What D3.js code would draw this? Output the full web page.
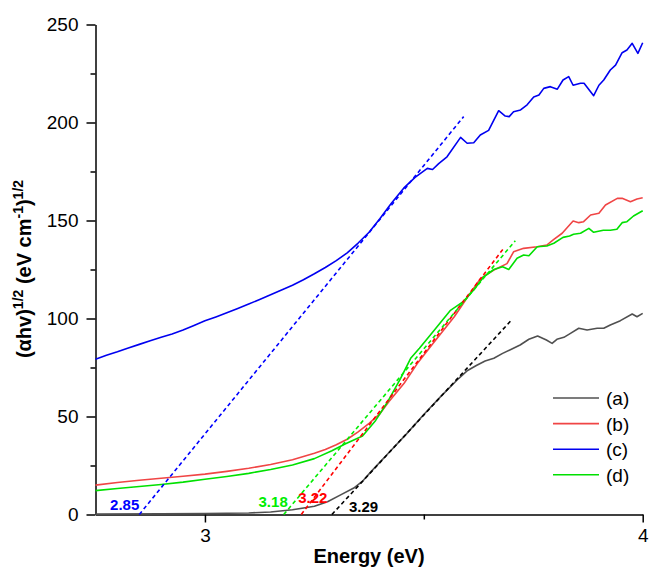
<!DOCTYPE html>
<html>
<head>
<meta charset="utf-8">
<script src="https://cdn.jsdelivr.net/npm/d3@7"></script>
<style>
  body { margin: 0; background: #fff; }
  text { font-family: Arial, "Liberation Sans", sans-serif; }
</style>
</head>
<body>
<div id="chart-area"></div>
<script>
// Energy (eV) and (alpha h v)^1/2 values
var seriesA = [[2.75,0.2],[2.9,0.3],[3.0,0.5],[3.1,0.8],[3.15,1.3],[3.2,2.4],[3.25,4.2],[3.28,6.5],[3.31,10],
  [3.34,13.5],[3.36,17],[3.38,22],[3.42,31.5],[3.46,41],[3.5,51],[3.54,60.5],[3.58,69.5],[3.6,73.5],[3.62,76],
  [3.64,78.3],[3.66,79.7],[3.68,82.2],[3.70,84.3],[3.72,86.5],[3.74,89.4],[3.76,91.1],[3.78,89],[3.793,87.3],
  [3.804,89.4],[3.82,90.4],[3.835,92.4],[3.854,95],[3.873,94.1],[3.896,95],[3.911,95],[3.926,96.7],[3.949,98.9],
  [3.976,102.3],[3.987,100.9],[4.0,102.6]];
var seriesB = [[2.75,15],[2.8,16.3],[2.85,17.5],[2.9,18.5],[2.95,19.5],[3.0,20.6],[3.05,22],[3.1,23.6],[3.15,25.5],
  [3.2,27.9],[3.25,31.2],[3.275,33.2],[3.3,35.6],[3.325,38.4],[3.35,42.2],[3.375,46.5],[3.4,51.5],[3.42,57.5],
  [3.455,67],[3.485,77],[3.52,87],[3.57,101],[3.6,111],[3.63,120.5],[3.66,124.7],[3.69,128],[3.705,134],
  [3.728,135.8],[3.759,136.6],[3.781,137.5],[3.797,140.4],[3.816,143.5],[3.841,149.7],[3.854,148.9],[3.865,149.4],
  [3.881,152.8],[3.9,153.7],[3.915,157.9],[3.942,161.3],[3.953,161.3],[3.972,159.6],[3.987,161],[4.0,161.6]];
var seriesC = [[2.75,79.2],[2.775,81.2],[2.8,83],[2.825,85],[2.85,86.8],[2.875,88.6],[2.9,90.4],[2.925,92.1],
  [2.95,94.1],[2.975,96.4],[3.0,98.8],[3.025,100.8],[3.05,102.9],[3.075,105.1],[3.1,107.4],[3.125,109.7],
  [3.15,112.1],[3.175,114.5],[3.2,117],[3.225,119.8],[3.25,122.8],[3.275,126],[3.3,129.5],[3.325,133.5],
  [3.35,138.5],[3.375,144],[3.4,151],[3.425,158.5],[3.454,166.5],[3.48,172],[3.508,176.6],[3.52,176],[3.534,179],
  [3.553,182.5],[3.584,192.4],[3.599,189.4],[3.614,189.7],[3.629,193.6],[3.648,196],[3.671,206],[3.686,203.3],
  [3.695,203],[3.705,205.5],[3.721,206.4],[3.736,209],[3.751,213],[3.763,214],[3.774,217.4],[3.789,218.3],
  [3.805,217],[3.818,221.7],[3.831,223.4],[3.841,219],[3.858,220],[3.866,220],[3.888,213.7],[3.9,219],
  [3.911,221.7],[3.926,226.8],[3.938,229.3],[3.953,235.6],[3.964,237],[3.976,240.4],[3.989,235.3],[4.0,240.7]];
var seriesD = [[2.75,12.2],[2.8,13.3],[2.85,14.3],[2.9,15.3],[2.95,16.5],[3.0,18],[3.05,19.4],[3.1,21],[3.15,23],
  [3.2,25.3],[3.25,28.5],[3.29,32.5],[3.32,36],[3.36,40],[3.39,48],[3.416,57],[3.447,69.5],[3.47,79.7],
  [3.49,84.8],[3.52,93],[3.56,104],[3.59,108.6],[3.614,114.5],[3.637,121.3],[3.66,125],[3.68,126.4],[3.694,125],
  [3.713,130.7],[3.728,132.4],[3.74,132],[3.759,136.6],[3.781,137],[3.797,138.4],[3.818,141.4],[3.833,142.1],
  [3.842,143],[3.858,143.5],[3.877,146],[3.888,144],[3.91,145],[3.926,145],[3.941,145.5],[3.953,148.9],
  [3.964,149.4],[3.979,152.3],[4.0,155]];

// Tauc fit lines: [intercept, end point]
var fitA = [[3.29,0],[3.702,99.6]];
var fitB = [[3.22,0],[3.684,136.3]];
var fitC = [[2.85,0],[3.591,203]];
var fitD = [[3.18,0],[3.709,139.7]];

var legendNames = ["(a)", "(b)", "(c)", "(d)"];
var xTicks = [3, 4];
var yTicks = [0, 50, 100, 150, 200, 250];

var width = 649, height = 567;
var plot = { left: 95.5, right: 642.7, top: 24.5, bottom: 514.5 };

var svg = d3.select("#chart-area").append("svg")
    .attr("width", width)
    .attr("height", height);

var x = d3.scaleLinear().domain([2.75, 4.0]).range([plot.left, plot.right]);
var y = d3.scaleLinear().domain([0, 250]).range([plot.bottom, plot.top]);

// axes
var xAxis = svg.append("g")
    .attr("transform", "translate(0," + plot.bottom + ")")
    .call(d3.axisBottom(x).tickValues(xTicks).tickFormat(d3.format("d")).tickSize(8).tickSizeOuter(0).tickPadding(6));
svg.append("g")
    .attr("transform", "translate(0," + plot.bottom + ")")
    .call(d3.axisBottom(x).tickValues([3.5]).tickFormat("").tickSize(5).tickSizeOuter(0))
    .select(".domain").remove();

var yAxis = svg.append("g")
    .attr("transform", "translate(" + plot.left + ",0)")
    .call(d3.axisLeft(y).tickValues(yTicks).tickSize(9).tickSizeOuter(0).tickPadding(8));
svg.append("g")
    .attr("transform", "translate(" + plot.left + ",0)")
    .call(d3.axisLeft(y).tickValues([25, 75, 125, 175, 225]).tickFormat("").tickSize(5).tickSizeOuter(0))
    .select(".domain").remove();

svg.selectAll(".domain, .tick line").attr("stroke", "#000").attr("stroke-width", 1.5);
svg.selectAll(".tick text").attr("font-size", "19px").attr("fill", "#000")
    .attr("font-family", "Arial, 'Liberation Sans', sans-serif");

// axis titles
svg.append("text")
    .attr("x", 369)
    .attr("y", 563)
    .attr("text-anchor", "middle")
    .attr("font-size", "20px")
    .attr("font-weight", "bold")
    .text("Energy (eV)");

var yTitle = svg.append("text")
    .attr("transform", "translate(31,269) rotate(-90)")
    .attr("text-anchor", "middle")
    .attr("font-size", "20px")
    .attr("font-weight", "bold");
yTitle.append("tspan").text("(\u03b1hv)");
yTitle.append("tspan").attr("font-size", "14px").attr("dy", -8).text("1/2");
yTitle.append("tspan").attr("dy", 8).text(" (eV cm");
yTitle.append("tspan").attr("font-size", "14px").attr("dy", -8).text("-1");
yTitle.append("tspan").attr("dy", 8).text(")");
yTitle.append("tspan").attr("font-size", "14px").attr("dy", -8).text("1/2");

// lines
var lineGenerator = d3.line()
    .x(function (d) { return x(d[0]); })
    .y(function (d) { return y(d[1]); });

var curves = [
    { data: seriesA, color: "#505050" },
    { data: seriesB, color: "#f04545" },
    { data: seriesC, color: "#0000f0" },
    { data: seriesD, color: "#00e000" }
];
var fits = [
    { data: fitA, color: "#000000" },
    { data: fitB, color: "#ff0000" },
    { data: fitC, color: "#0000ff" },
    { data: fitD, color: "#00ee00" }
];

curves.forEach(function (c) {
    svg.append("path")
        .attr("fill", "none")
        .attr("stroke", c.color)
        .attr("stroke-width", 1.6)
        .attr("stroke-linejoin", "round")
        .attr("d", lineGenerator(c.data));
});

fits.forEach(function (f) {
    svg.append("path")
        .attr("fill", "none")
        .attr("stroke", f.color)
        .attr("stroke-width", 1.6)
        .attr("stroke-dasharray", "4,3")
        .attr("d", lineGenerator(f.data));
});

// band gap labels
var gapLabels = [
    { fit: fitC, color: "#0000ff", anchor: "end", dx: 0, dy: -4.5 },
    { fit: fitD, color: "#00ee00", anchor: "end", dx: 4, dy: -7.5 },
    { fit: fitB, color: "#ff0000", anchor: "start", dx: -3, dy: -11.5 },
    { fit: fitA, color: "#000000", anchor: "start", dx: 17, dy: -2.5 }
];
gapLabels.forEach(function (l) {
    svg.append("text")
        .attr("x", x(l.fit[0][0]) + l.dx)
        .attr("y", y(0) + l.dy)
        .attr("text-anchor", l.anchor)
        .attr("font-size", "15px")
        .attr("font-weight", "bold")
        .attr("fill", l.color)
        .text(d3.format(".2f")(l.fit[0][0]));
});

// legend
var legend = svg.append("g").attr("transform", "translate(553,398)");
legendNames.forEach(function (name, i) {
    legend.append("line")
        .attr("x1", 0).attr("x2", 46)
        .attr("y1", i * 25.6).attr("y2", i * 25.6)
        .attr("stroke", curves[i].color)
        .attr("stroke-width", 1.6);
    legend.append("text")
        .attr("x", 53)
        .attr("y", i * 25.6 + 7)
        .attr("font-size", "19px")
        .text(name);
});
</script>
</body>
</html>
